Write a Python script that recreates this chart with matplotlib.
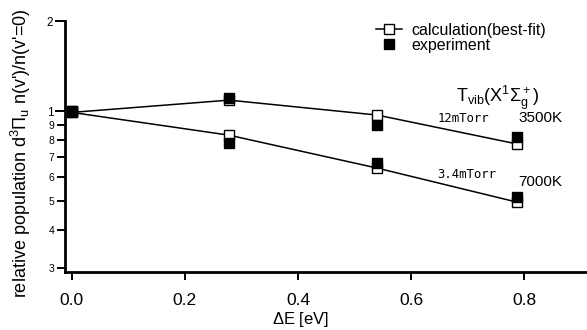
import matplotlib

matplotlib.use("Agg")
import matplotlib.pyplot as plt  # noqa: E402
from matplotlib.ticker import FixedLocator, NullFormatter  # noqa: E402

plt.rcParams["font.family"] = ["Liberation Sans", "DejaVu Sans"]
plt.rcParams["mathtext.fontset"] = "custom"
plt.rcParams["mathtext.rm"] = "Liberation Sans"
plt.rcParams["mathtext.it"] = "Liberation Sans"

# energy of vibrational level v' relative to v'=0 [eV]
delta_e = [0.0, 0.278, 0.54, 0.788]

# 12 mTorr (Tvib = 3500 K)
calc_12 = [0.99, 1.088, 0.97, 0.776]
exp_12 = [1.0, 1.11, 0.898, 0.818]

# 3.4 mTorr (Tvib = 7000 K)
calc_34 = [0.99, 0.831, 0.645, 0.496]
exp_34 = [1.0, 0.782, 0.67, 0.516]

y_major = [1, 2]
y_minor = [0.3, 0.4, 0.5, 0.6, 0.7, 0.8, 0.9]
x_ticks = [0.0, 0.2, 0.4, 0.6, 0.8]

fig = plt.figure(figsize=(5.87, 3.3), dpi=100)
ax = fig.add_axes([65 / 587, 58 / 330, 522 / 587, 251 / 330])

calc_style = dict(color="black", lw=1.1, marker="s", ms=6.5,
                  mfc="white", mec="black", mew=1.0)
exp_style = dict(color="black", ls="none", marker="s", ms=6.5)

(h_calc,) = ax.plot(delta_e, calc_12, label="calculation(best-fit)", **calc_style)
ax.plot(delta_e, calc_34, **calc_style)
(h_exp,) = ax.plot(delta_e, exp_12, label="experiment", **exp_style)
ax.plot(delta_e, exp_34, **exp_style)

ax.set_yscale("log")
ax.set_ylim(0.29, 2.0)
ax.set_xlim(-0.012, 0.911)

ax.yaxis.set_major_locator(FixedLocator(y_major))
ax.set_yticklabels([str(v) for v in y_major])
ax.yaxis.set_minor_locator(FixedLocator(y_minor))
ax.yaxis.set_minor_formatter(NullFormatter())
ax.set_yticks(y_minor, [str(int(round(v * 10))) for v in y_minor], minor=True)
ax.tick_params(axis="y", which="major", length=7, width=1.4, labelsize=8.5, pad=1.5)
ax.tick_params(axis="y", which="minor", length=6, width=1.4, labelsize=7.5, pad=1.5)

ax.set_xticks(x_ticks, [f"{v:.1f}" for v in x_ticks])
ax.tick_params(axis="x", length=6, width=1.4, labelsize=12.5, pad=9)

for side in ("top", "right"):
    ax.spines[side].set_visible(False)
for side in ("left", "bottom"):
    ax.spines[side].set_linewidth(2)

ax.set_xlabel(r"$\Delta$E [eV]", fontsize=12)
ax.xaxis.set_label_coords(0.452, -0.152)
ax.set_ylabel(r"relative population d$^3\Pi_u$ n(v')/n(v'=0)", fontsize=13)
ax.yaxis.set_label_coords(-0.061, 0.474)

ax.legend(handles=[h_calc, h_exp], loc="upper left", bbox_to_anchor=(0.596, 0.994),
          frameon=False, fontsize=11.5, handlelength=1.6, handletextpad=0.6,
          labelspacing=0.0, numpoints=1, borderpad=0, borderaxespad=0)

ax.text(0.68, 1.105, r"T$_{\rm vib}$(X$^1\Sigma_g^+$)", fontsize=13, ha="left",
        va="center")
ax.text(0.646, 0.947, "12mTorr", family="DejaVu Sans Mono", fontsize=8.8,
        ha="left", va="center")
ax.text(0.789, 0.947, "3500K", fontsize=11, ha="left", va="center")
ax.text(0.646, 0.616, "3.4mTorr", family="DejaVu Sans Mono", fontsize=8.8,
        ha="left", va="center")
ax.text(0.789, 0.579, "7000K", fontsize=11, ha="left", va="center")

fig.savefig("out.png", dpi=100)
